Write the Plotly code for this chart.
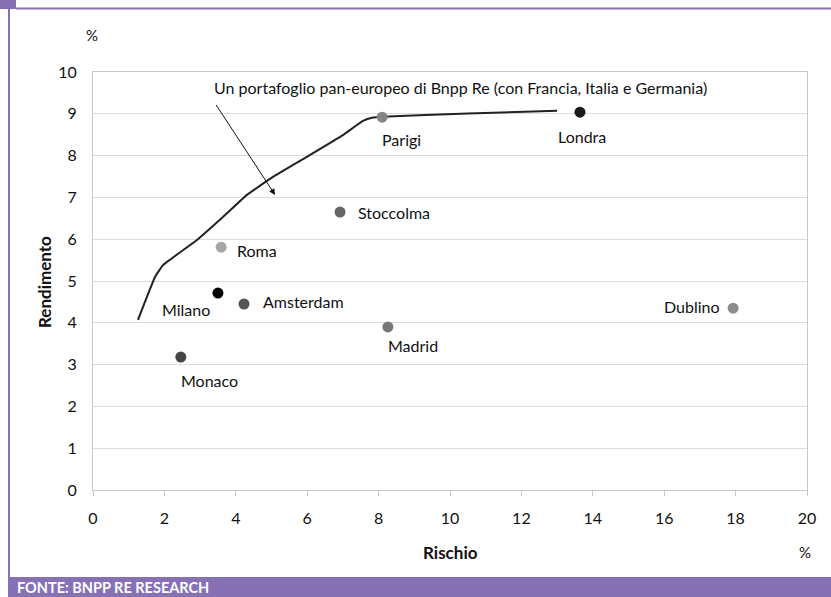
import plotly.graph_objects as go

# ---- data ----
cities = ["Parigi", "Londra", "Stoccolma", "Roma", "Milano", "Amsterdam", "Madrid", "Monaco", "Dublino"]
rischio = [8.10, 13.64, 6.92, 3.59, 3.50, 4.23, 8.26, 2.46, 17.93]
rendimento = [8.92, 9.04, 6.65, 5.81, 4.71, 4.45, 3.90, 3.18, 4.35]

frontier_x = [1.26, 1.74, 1.96, 2.91, 3.64, 4.31, 5.04, 5.99, 7.00, 7.56, 7.84, 8.10, 10.5, 13.0]
frontier_y = [4.07, 5.10, 5.38, 5.98, 6.53, 7.06, 7.49, 7.97, 8.49, 8.83, 8.91, 8.93, 9.01, 9.07]

x_ticks = [0, 2, 4, 6, 8, 10, 12, 14, 16, 18, 20]
y_ticks = [0, 1, 2, 3, 4, 5, 6, 7, 8, 9, 10]
y_ticklabels = ["0", "1", "2", "3", "4", "5", "6", "7", "8", "9", "10"]

note_text = "Un portafoglio pan-europeo di Bnpp Re (con Francia, Italia e Germania)"

# ---- styles ----
point_colors = ["#858585", "#1a1a1a", "#666666", "#a6a6a6", "#000000", "#555555", "#777777", "#444444", "#8c8c8c"]
label_style = {
    "Parigi": dict(xanchor="center", dx=19, dy=-22),
    "Londra": dict(xanchor="center", dx=2, dy=-24),
    "Stoccolma": dict(xanchor="left", dx=16, dy=0),
    "Roma": dict(xanchor="left", dx=14, dy=-3),
    "Milano": dict(xanchor="right", dx=-6, dy=-16),
    "Amsterdam": dict(xanchor="left", dx=17, dy=2),
    "Madrid": dict(xanchor="center", dx=25, dy=-19),
    "Monaco": dict(xanchor="center", dx=29, dy=-23),
    "Dublino": dict(xanchor="right", dx=-11, dy=2),
}
FONT = "Lato, 'Open Sans', sans-serif"
PURPLE = "#8671B4"
W, H = 831, 597
L, R, T, B = 93, 24, 72, 107
PW, PH = W - L - R, H - T - B

def px(xp):
    return (xp - L) / PW

def py(yp):
    return (H - B - yp) / PH

fig = go.Figure()

fig.add_trace(go.Scatter(
    x=frontier_x, y=frontier_y, mode="lines",
    line=dict(color="#222222", width=2, shape="spline", smoothing=0.3),
    hoverinfo="skip", showlegend=False,
))

fig.add_trace(go.Scatter(
    x=rischio, y=rendimento, mode="markers",
    marker=dict(size=11, color=point_colors, line=dict(width=0)),
    text=cities, showlegend=False,
))

annotations = []
for c, xv, yv in zip(cities, rischio, rendimento):
    s = label_style[c]
    annotations.append(dict(
        x=xv, y=yv, xref="x", yref="y", text=c, showarrow=False,
        xanchor=s["xanchor"], yanchor="middle", xshift=s["dx"], yshift=s["dy"],
        font=dict(family=FONT, size=16, color="#111111"),
    ))

# arrow
annotations.append(dict(
    x=5.10, y=7.06, ax=3.42, ay=9.25, xref="x", yref="y", axref="x", ayref="y",
    text="", showarrow=True, arrowhead=2, arrowsize=1.2, arrowwidth=1, arrowcolor="#111111",
))
# note text
annotations.append(dict(
    x=10.28, y=9.62, xref="x", yref="y", text=note_text, showarrow=False,
    xanchor="center", yanchor="middle", font=dict(family=FONT, size=16, color="#111111"),
))

def paper_text(x, y, text, size, angle=0, xanchor="center", color="#111111"):
    return dict(x=px(x), y=py(y), xref="paper", yref="paper", text=text, showarrow=False,
                xanchor=xanchor, yanchor="middle", textangle=angle,
                font=dict(family=FONT, size=size, color=color))

annotations += [
    paper_text(92, 35, "%", 15),
    paper_text(805, 552, "%", 15),
    paper_text(450, 552, "<b>Rischio</b>", 17),
    paper_text(44, 282, "<b>Rendimento</b>", 17, angle=-90),
    paper_text(15, 587, "<b>FONTE: BNPP RE RESEARCH</b>", 14.5, xanchor="left", color="#ffffff"),
]

shapes = [
    dict(type="rect", xref="paper", yref="paper", x0=px(0), x1=px(16), y0=py(0), y1=py(9),
         fillcolor=PURPLE, line=dict(width=0), layer="below"),
    dict(type="rect", xref="paper", yref="paper", x0=px(16), x1=px(831), y0=py(7.5), y1=py(9.5),
         fillcolor=PURPLE, line=dict(width=0), layer="below"),
    dict(type="rect", xref="paper", yref="paper", x0=px(8), x1=px(10), y0=py(9), y1=py(578),
         fillcolor=PURPLE, line=dict(width=0), layer="below"),
    dict(type="rect", xref="paper", yref="paper", x0=px(8), x1=px(831), y0=py(577), y1=py(597),
         fillcolor=PURPLE, line=dict(width=0), layer="below"),
]

fig.update_layout(
    width=W, height=H,
    margin=dict(l=L, r=R, t=T, b=B, pad=0),
    paper_bgcolor="white", plot_bgcolor="white",
    font=dict(family=FONT, size=16, color="#111111"),
    annotations=annotations, shapes=shapes, showlegend=False,
    xaxis=dict(range=[0, 20], tickvals=x_ticks, showgrid=False, zeroline=False,
               showline=True, linecolor="#c8c8c8", linewidth=1, mirror=True,
               ticks="outside", ticklen=5, tickcolor="#c8c8c8", ticklabelstandoff=9,
               tickfont=dict(family=FONT, size=16, color="#111111")),
    yaxis=dict(range=[0, 10], tickvals=y_ticks, ticktext=y_ticklabels, showgrid=True,
               gridcolor="#dcdcdc", gridwidth=1, zeroline=False,
               showline=True, linecolor="#c8c8c8", linewidth=1, mirror=True,
               ticks="", ticklabelstandoff=12,
               tickfont=dict(family=FONT, size=16, color="#111111")),
)

fig.write_html("out.html")
